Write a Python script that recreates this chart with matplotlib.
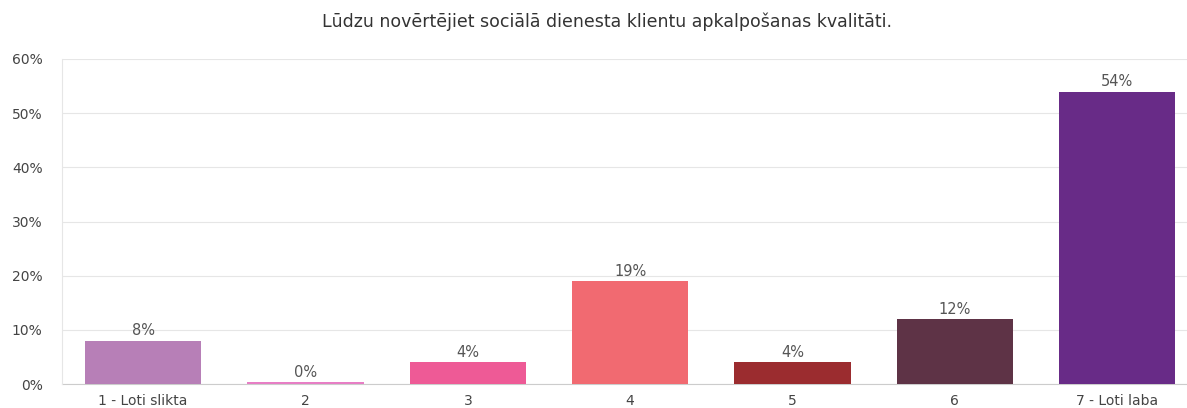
import matplotlib
matplotlib.use("Agg")
import matplotlib.pyplot as plt

plt.rcParams['font.family'] = ['DejaVu Sans']

TITLE = "Lūdzu novērtējiet sociālā dienesta klientu apkalpošanas kvalitāti."
CATEGORIES = ["1 - Loti slikta", "2", "3", "4", "5", "6", "7 - Loti laba"]
VALUES = [8, 0, 4, 19, 4, 12, 54]
COLORS = ["#B77FB7", "#E77EC5", "#EE5A96", "#F16A71", "#9B2C2F", "#5E3346", "#682B87"]
Y_TICKS = [0, 10, 20, 30, 40, 50, 60]

fig = plt.figure(figsize=(11.87, 4.08), dpi=100)
ax = fig.add_axes([62 / 1187, 1 - 384 / 408, 1 - 62 / 1187, (384 - 59) / 408])

x = range(len(CATEGORIES))
# a zero bar still shows as a thin line, as in the original
heights = [v if v > 0 else 0.3 for v in VALUES]
ax.bar(x, heights, width=0.715, color=COLORS, linewidth=0, zorder=3)

for i, v in enumerate(VALUES):
    ax.text(i, max(v, 0.3) + 0.45, f"{v}%", ha='center', va='bottom',
            fontsize=10.5, color='#555555')

ax.set_xlim(-0.5, 6.43)
ax.set_ylim(0, 60)
ax.set_yticks(Y_TICKS)
ax.set_yticklabels([f"{t}%" for t in Y_TICKS])
ax.set_xticks(list(x))
ax.set_xticklabels(CATEGORIES)
ax.grid(axis='y', color='#e6e6e6', linewidth=0.8, zorder=0)
ax.tick_params(axis='both', length=0, labelsize=10, labelcolor='#444444')
ax.tick_params(axis='y', pad=14)
ax.tick_params(axis='x', pad=7)

for side in ['top', 'right']:
    ax.spines[side].set_visible(False)
ax.spines['left'].set_color('#e6e6e6')
ax.spines['bottom'].set_color('#cccccc')
ax.spines['bottom'].set_zorder(2)

fig.text(0.5 + 13 / 1187, 1 - 22 / 408, TITLE, ha='center', va='center',
         fontsize=12.5, color='#333333')

fig.savefig("out.png", dpi=100)
